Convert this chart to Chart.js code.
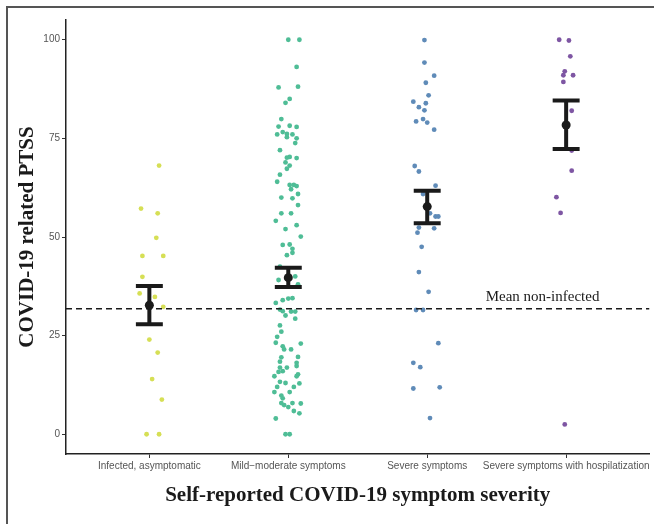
<!DOCTYPE html>
<html>
<head>
<meta charset="utf-8">
<script src="https://cdn.jsdelivr.net/npm/chart.js@4"></script>
<style>
    html, body { margin: 0; padding: 0; background: #fff; }
    #wrap { position: relative; width: 654px; height: 524px; overflow: hidden; }
    #frame { position: absolute; left: 6px; top: 6px; right: -4px; bottom: -4px; border-left: 2px solid #555; border-top: 2px solid #555; }
    #chart { position: absolute; left: 0; top: 0; }
</style>
</head>
<body>
<div id="wrap">
    <div id="frame"></div>
    <canvas id="chart" width="654" height="524"></canvas>
</div>
<script>
const categories = ['Infected, asymptomatic', 'Mild\u2212moderate symptoms', 'Severe symptoms', 'Severe symptoms with hospilatization'];
const yTicks = [0, 25, 50, 75, 100];

// PTSS scores per group
const asymptomaticValues = [68.1, 57.2, 56.0, 49.8, 45.2, 45.2, 39.9, 35.7, 34.8, 32.3, 24.0, 20.7, 14.0, 8.8, 0, 0];
const mildValues = [100, 100, 93.1, 87.9, 88.1, 85.0, 84.0, 79.9, 78.0, 78.2, 77.9, 76.6, 76.1, 76.0, 76.0, 75.3, 75.0, 73.8, 72.0, 70.1, 70.3,
    70.0, 68.9, 68.1, 67.3, 65.8, 64.0, 63.2, 63.2, 62.9, 62.1, 60.9, 60.0, 59.8, 58.1, 56.0, 56.0, 54.1, 53.0, 52.0, 50.1,
    48.0, 48.1, 47.0, 46.0, 45.4, 42.5, 40.0, 39.1, 38.0, 34.0, 34.4, 34.5, 33.3, 31.6, 31.2, 30.1, 31.1, 31.1, 29.3, 27.6, 26.0,
    24.7, 23.2, 23.0, 22.3, 21.5, 21.5, 19.5, 19.6, 18.4, 18.1, 16.9, 16.9, 17.3, 14.7, 15.8, 16.0, 14.7, 15.2, 13.3, 13.0, 12.9,
    10.7, 12.0, 12.0, 9.8, 10.7, 9.1, 7.9, 7.9, 7.4, 6.9, 7.8, 5.9, 5.3, 4.0, 0, 0];
const severeValues = [99.9, 94.2, 90.9, 89.1, 85.9, 84.3, 83.9, 82.9, 82.1, 79.3, 79.9, 79.0, 77.2, 68.0, 66.6, 63.0, 60.9, 56.0, 55.2, 55.2,
    52.4, 52.2, 51.1, 47.5, 41.1, 36.1, 31.5, 31.5, 23.1, 18.1, 17.0, 11.6, 11.9, 4.1];
const hospitalValues = [100, 99.8, 95.8, 92.0, 91.0, 91.0, 89.3, 82.0, 71.9, 66.8, 60.1, 56.1, 2.5];

// horizontal jitter of each point (in category units), as seen in the picture
const asymptomaticJitter = [0.07, -0.06, 0.06, 0.05, -0.05, 0.10, -0.05, -0.07, 0.04, 0.10, 0.00, 0.06, 0.02, 0.09, -0.02, 0.07];
const mildJitter = [0.00, 0.08, 0.06, -0.07, 0.07, 0.01, -0.02, -0.05, -0.07, 0.01, 0.06, -0.04, -0.01, 0.03, -0.08, -0.01, 0.06, 0.05, -0.06, -0.01, 0.01,
    0.06, -0.02, 0.01, -0.01, -0.06, -0.08, 0.01, 0.04, 0.06, 0.02, 0.07, -0.05, 0.03, 0.07, -0.05, 0.02, -0.09, 0.06, -0.02, 0.09,
    -0.04, 0.01, 0.03, 0.03, -0.01, -0.06, 0.05, -0.07, 0.07, -0.04, 0.00, 0.03, -0.09, -0.06, -0.04, -0.02, 0.02, 0.05, 0.05, -0.06, -0.05,
    -0.08, -0.09, 0.09, -0.04, -0.03, 0.02, -0.05, 0.07, -0.06, 0.06, -0.06, -0.01, 0.06, -0.10, -0.07, -0.04, 0.06, 0.07, -0.06, -0.02, 0.08,
    -0.10, -0.08, 0.04, -0.05, 0.01, -0.04, -0.05, 0.03, -0.03, 0.00, 0.09, 0.04, 0.08, -0.09, -0.02, 0.01];
const severeJitter = [-0.02, -0.02, 0.05, -0.01, 0.01, -0.10, -0.01, -0.06, -0.02, -0.08, -0.03, 0.00, 0.05, -0.09, -0.06, 0.06, -0.03, 0.02, 0.06, 0.08,
    -0.06, 0.05, -0.07, -0.04, -0.06, 0.01, -0.08, -0.03, 0.08, -0.10, -0.05, -0.10, 0.09, 0.02];
const hospitalJitter = [-0.05, 0.02, 0.03, -0.01, -0.02, 0.05, -0.02, 0.04, 0.04, 0.04, -0.07, -0.04, -0.01];

// group means with error bars
const groupMeans = [32.7, 39.7, 57.7, 78.4];
const groupLower = [27.9, 37.3, 53.5, 72.3];
const groupUpper = [37.6, 42.2, 61.7, 84.6];
const nonInfectedMean = 31.8;

const groupValues = [asymptomaticValues, mildValues, severeValues, hospitalValues];
const groupJitter = [asymptomaticJitter, mildJitter, severeJitter, hospitalJitter];
const pointColors = ['#d6df55', '#4fbd96', '#5f8bb8', '#7e56a3'];

document.addEventListener('DOMContentLoaded', function() {
    const datasets = [];

    // jittered raw points
    groupValues.forEach((vals, g) => {
        datasets.push({
            data: vals.map((v, i) => ({ x: g + 1 + groupJitter[g][i], y: v })),
            backgroundColor: pointColors[g],
            borderWidth: 0,
            pointRadius: 2.4,
            order: 3
        });
    });

    // dashed reference line
    datasets.push({
        data: [{ x: 0.4, y: nonInfectedMean }, { x: 4.6, y: nonInfectedMean }],
        showLine: true,
        borderColor: '#1a1a1a',
        borderWidth: 1.6,
        borderDash: [6, 4],
        pointRadius: 0,
        order: 2
    });

    // error bars: top cap, stem, bottom cap, with gaps between
    const capHalf = 0.097;
    const barData = [];
    groupMeans.forEach((m, g) => {
        const x = g + 1;
        barData.push({ x: x - capHalf, y: groupUpper[g] }, { x: x + capHalf, y: groupUpper[g] }, { x: x, y: null });
        barData.push({ x: x, y: groupUpper[g] }, { x: x, y: groupLower[g] }, { x: x, y: null });
        barData.push({ x: x - capHalf, y: groupLower[g] }, { x: x + capHalf, y: groupLower[g] }, { x: x, y: null });
    });
    datasets.push({
        data: barData,
        showLine: true,
        spanGaps: false,
        borderColor: '#1a1a1a',
        borderWidth: 4,
        borderCapStyle: 'butt',
        pointRadius: 0,
        order: 1
    });

    // means
    datasets.push({
        data: groupMeans.map((m, g) => ({ x: g + 1, y: m })),
        backgroundColor: '#1a1a1a',
        borderWidth: 0,
        pointRadius: 4.5,
        order: 0
    });

    const refLabel = {
        id: 'refLabel',
        afterDatasetsDraw(chart) {
            const { ctx, scales } = chart;
            ctx.save();
            ctx.font = '15px "Liberation Serif", serif';
            ctx.fillStyle = '#1a1a1a';
            ctx.textAlign = 'center';
            ctx.textBaseline = 'alphabetic';
            ctx.fillText('Mean non-infected', scales.x.getPixelForValue(3.83), scales.y.getPixelForValue(nonInfectedMean) - 8);
            ctx.restore();
        }
    };

    new Chart(document.getElementById('chart'), {
        type: 'scatter',
        data: { datasets: datasets },
        plugins: [refLabel],
        options: {
            responsive: false,
            animation: false,
            layout: { padding: { top: 20, right: 2, left: 0, bottom: 0 } },
            plugins: { legend: { display: false }, tooltip: { enabled: false } },
            scales: {
                x: {
                    type: 'linear',
                    min: 0.4,
                    max: 4.6,
                    afterBuildTicks: s => { s.ticks = categories.map((c, i) => ({ value: i + 1 })); },
                    afterFit: s => { s.height = 70; },
                    ticks: {
                        autoSkip: false,
                        maxRotation: 0,
                        padding: 2,
                        color: '#555',
                        font: { family: '"Liberation Sans", Arial, sans-serif', size: 10 },
                        callback: v => categories[v - 1]
                    },
                    grid: { drawOnChartArea: false, tickLength: 4, color: '#333', lineWidth: 1 },
                    border: { color: '#222', width: 1.5 },
                    title: {
                        display: true,
                        text: 'Self-reported COVID-19 symptom severity',
                        color: '#1a1a1a',
                        font: { family: '"Liberation Serif", serif', size: 21, weight: 'bold' },
                        padding: { top: 0, bottom: 16 }
                    }
                },
                y: {
                    min: -5,
                    max: 105,
                    afterBuildTicks: s => { s.ticks = yTicks.map(v => ({ value: v })); },
                    afterFit: s => { s.width = 66; },
                    ticks: {
                        padding: 2,
                        color: '#555',
                        font: { family: '"Liberation Sans", Arial, sans-serif', size: 10 }
                    },
                    grid: { drawOnChartArea: false, tickLength: 4, color: '#333', lineWidth: 1 },
                    border: { color: '#222', width: 1.5 },
                    title: {
                        display: true,
                        text: 'COVID-19 related PTSS',
                        color: '#1a1a1a',
                        font: { family: '"Liberation Serif", serif', size: 21, weight: 'bold' },
                        padding: { top: 15, bottom: 0 }
                    }
                }
            }
        }
    });
});
</script>
</body>
</html>
